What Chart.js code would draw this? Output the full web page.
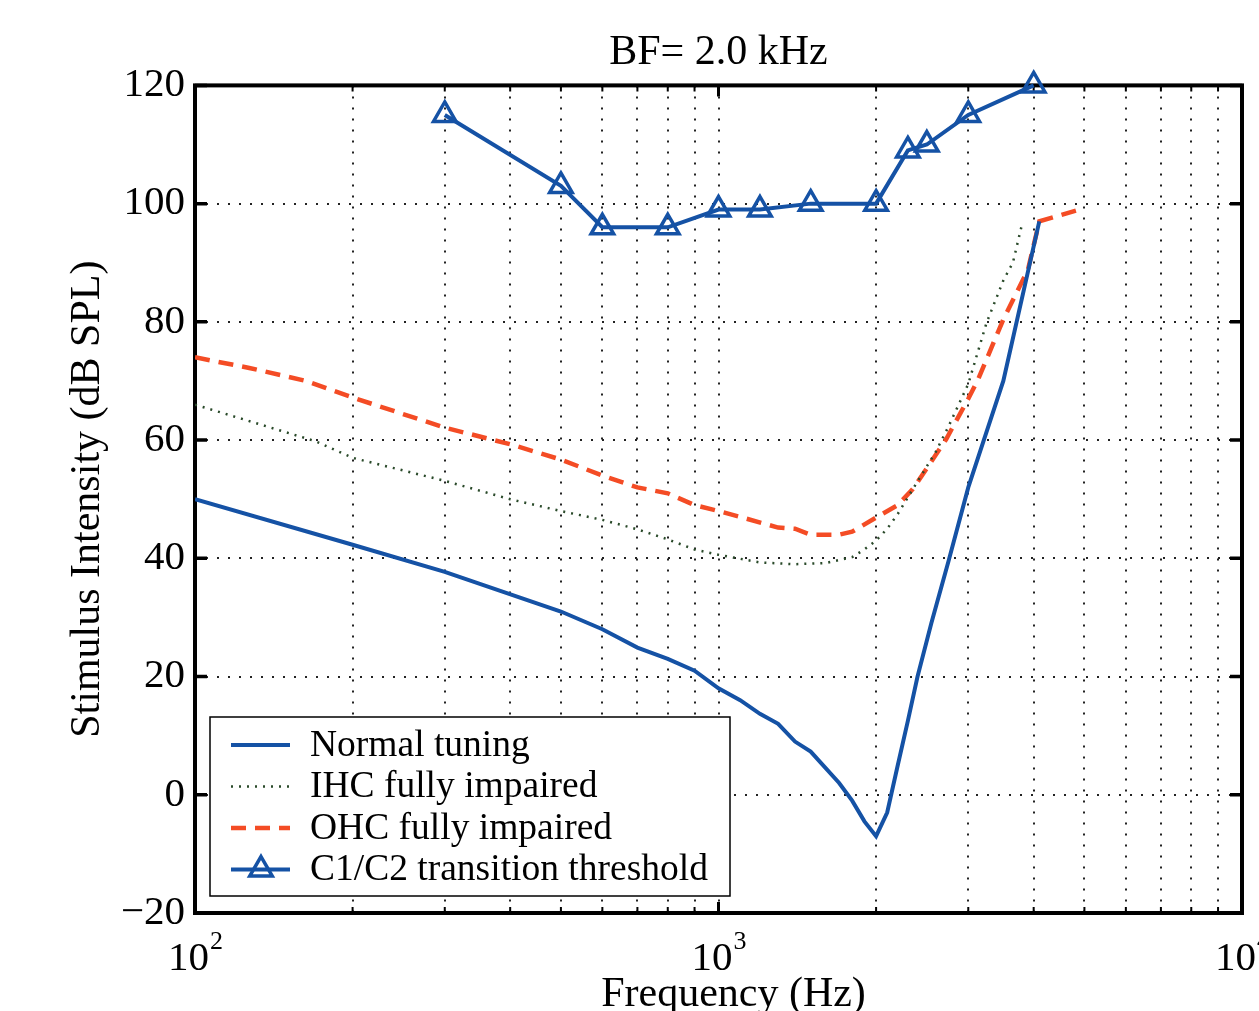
<!DOCTYPE html>
<html>
<head>
<meta charset="utf-8">
<script src="https://cdn.jsdelivr.net/npm/chart.js@4.4.0/dist/chart.umd.min.js"></script>
<style>
  html, body { margin: 0; padding: 0; background: #fff; }
</style>
</head>
<body>
<canvas id="mychart" width="1259" height="1011"></canvas>
<script>
// tuning curves, BF = 2.0 kHz
var normalFreq = [100, 200, 300, 500, 600, 700, 800, 900, 1000, 1100, 1200, 1300, 1400, 1500, 1700, 1800, 1900, 2000, 2100, 2200, 2300, 2400, 2550, 2750, 3000, 3500, 4100];
var normalLevel = [50, 42.3, 37.7, 31, 28, 24.9, 23, 21, 18, 16, 13.7, 12, 9, 7.3, 2, -1, -4.5, -7, -3, 5, 12.5, 20, 29, 39.5, 52, 70, 97];

var ihcFreq = [100, 170, 200, 300, 400, 500, 600, 700, 800, 900, 1000, 1200, 1400, 1600, 1800, 1900, 2000, 2100, 2200, 2400, 2600, 2750, 3000, 3250, 3500, 3650, 3800];
var ihcLevel = [66, 59.8, 57, 53.1, 50, 48, 46.5, 44.9, 43.2, 41.5, 40.6, 39.3, 39, 39.2, 40.2, 41.5, 43, 45, 47.5, 53, 58, 62.3, 69.5, 79.8, 87, 90, 96.5];

var ohcFreq = [100, 127, 163, 200, 300, 400, 500, 600, 700, 800, 900, 1000, 1100, 1300, 1400, 1500, 1700, 1800, 2000, 2200, 2350, 2530, 2720, 2900, 3000, 3130, 3500, 3900, 4100, 4900];
var ohcLevel = [74, 72.2, 70, 67.2, 62.1, 59.3, 56.7, 54, 52, 51, 49, 48, 47, 45.2, 45, 44, 44, 44.5, 46.9, 49, 51.7, 55.9, 60.1, 64.6, 67, 70.2, 80.4, 88.8, 97, 99];

var c1c2Freq = [300, 500, 600, 800, 1000, 1200, 1500, 2000, 2300, 2500, 3000, 4000];
var c1c2Level = [115, 103, 96, 96, 99, 99, 100, 100, 109, 110, 115, 120];

var seriesNames = ['Normal tuning', 'IHC fully impaired', 'OHC fully impaired', 'C1/C2 transition threshold'];

// x grid at every 1-9 x decade, labels only at the decades (10 + exponent)
var xGridValues = [100, 200, 300, 400, 500, 600, 700, 800, 900, 1000, 2000, 3000, 4000, 5000, 6000, 7000, 8000, 9000, 10000];
var xDecades = [100, 1000, 10000];
var xExponents = ['2', '3', '4'];
var yTicks = [-20, 0, 20, 40, 60, 80, 100, 120];

var blue = '#1552a5';
var orange = '#f44c25';
var green = '#2a4a2a';
var serif = "'Liberation Serif', 'Times New Roman', serif";

function pairs(xs, ys) {
	var out = [];
	for (var i = 0; i < xs.length; i++) {
		out.push({ x: xs[i], y: ys[i] });
	}
	return out;
}

Chart.defaults.font.family = serif;
Chart.defaults.color = '#000';

// black box round the plot + inward ticks like matlab
var framePlugin = {
	id: 'frame',
	beforeDatasetsDraw: function(chart) {
		var ctx = chart.ctx;
		var a = chart.chartArea;
		var xs = chart.scales.x;
		var ys = chart.scales.y;

		ctx.save();
		ctx.strokeStyle = '#000';
		ctx.setLineDash([]);
		ctx.lineWidth = 3.5;

		ys.ticks.forEach(function(t) {
			var y = ys.getPixelForValue(t.value);
			ctx.beginPath();
			ctx.moveTo(a.left, y); ctx.lineTo(a.left + 12, y);
			ctx.moveTo(a.right, y); ctx.lineTo(a.right - 12, y);
			ctx.stroke();
		});

		xs.ticks.forEach(function(t) {
			var x = xs.getPixelForValue(t.value);
			var major = xDecades.indexOf(t.value) >= 0;
			var len = major ? 11 : 6;
			ctx.lineWidth = major ? 3 : 2;
			ctx.beginPath();
			ctx.moveTo(x, a.bottom); ctx.lineTo(x, a.bottom - len);
			ctx.moveTo(x, a.top); ctx.lineTo(x, a.top + len);
			ctx.stroke();
		});

		ctx.lineWidth = 4;
		ctx.strokeRect(a.left, a.top, a.right - a.left, a.bottom - a.top);
		ctx.restore();
	}
};

// 10^n labels and the x title, drawn by hand so the exponent sits up high
var xLabelsPlugin = {
	id: 'xLabels',
	afterDraw: function(chart) {
		var ctx = chart.ctx;
		var a = chart.chartArea;
		var xs = chart.scales.x;

		ctx.save();
		ctx.fillStyle = '#000';
		ctx.textBaseline = 'alphabetic';
		ctx.textAlign = 'left';
		xDecades.forEach(function(v, i) {
			var x = xs.getPixelForValue(v);
			ctx.font = '41px ' + serif;
			var w1 = ctx.measureText('10').width;
			ctx.font = '26px ' + serif;
			var w2 = ctx.measureText(xExponents[i]).width;
			var start = x - (w1 + w2) / 2;
			ctx.font = '41px ' + serif;
			ctx.fillText('10', start, a.bottom + 57);
			ctx.font = '26px ' + serif;
			ctx.fillText(xExponents[i], start + w1 + 1, a.bottom + 36);
		});

		ctx.font = '42px ' + serif;
		ctx.textAlign = 'center';
		ctx.fillText('Frequency (Hz)', (a.left + a.right) / 2 + 15, a.bottom + 93);
		ctx.restore();
	}
};

// legend box inside the axes, bottom left
var boxLegendPlugin = {
	id: 'boxLegend',
	afterDraw: function(chart) {
		var ctx = chart.ctx;
		var a = chart.chartArea;
		var x0 = a.left + 15;
		var y0 = a.bottom - 196;
		var w = 520;
		var h = 179;

		ctx.save();
		ctx.fillStyle = '#fff';
		ctx.fillRect(x0, y0, w, h);
		ctx.strokeStyle = '#000';
		ctx.lineWidth = 1.5;
		ctx.strokeRect(x0, y0, w, h);

		chart.data.datasets.forEach(function(ds, i) {
			var y = y0 + 28 + i * 41.5;
			ctx.strokeStyle = ds.borderColor;
			ctx.lineWidth = ds.borderWidth;
			ctx.setLineDash(ds.borderDash || []);
			ctx.beginPath();
			ctx.moveTo(x0 + 21, y);
			ctx.lineTo(x0 + 80, y);
			ctx.stroke();
			ctx.setLineDash([]);

			if (ds.pointRadius > 0) {
				ctx.fillStyle = 'rgba(0,0,0,0)';
				ctx.lineWidth = ds.pointBorderWidth;
				Chart.helpers.drawPoint(ctx, {
					pointStyle: ds.pointStyle,
					radius: ds.pointRadius,
					borderWidth: ds.pointBorderWidth,
					rotation: 0
				}, x0 + 51, y);
			}

			ctx.fillStyle = '#000';
			ctx.font = '37.5px ' + serif;
			ctx.textAlign = 'left';
			ctx.textBaseline = 'middle';
			ctx.fillText(ds.label, x0 + 100, y + 1);
		});
		ctx.restore();
	}
};

var ctx = document.getElementById('mychart');
var myChart = new Chart(ctx, {
	type: 'line',
	data: {
		datasets: [
			{
				label: seriesNames[0],
				data: pairs(normalFreq, normalLevel),
				borderColor: blue,
				borderWidth: 4,
				pointRadius: 0,
				tension: 0
			},
			{
				label: seriesNames[1],
				data: pairs(ihcFreq, ihcLevel),
				borderColor: green,
				borderWidth: 2.5,
				borderDash: [2, 6],
				pointRadius: 0,
				tension: 0
			},
			{
				label: seriesNames[2],
				data: pairs(ohcFreq, ohcLevel),
				borderColor: orange,
				borderWidth: 4.5,
				borderDash: [15, 9],
				pointRadius: 0,
				tension: 0
			},
			{
				label: seriesNames[3],
				data: pairs(c1c2Freq, c1c2Level),
				borderColor: blue,
				backgroundColor: 'rgba(0,0,0,0)',
				borderWidth: 4,
				pointStyle: 'triangle',
				pointRadius: 13,
				pointBorderWidth: 3.5,
				pointBorderColor: blue,
				pointBackgroundColor: 'rgba(0,0,0,0)',
				tension: 0,
				clip: false
			}
		]
	},
	options: {
		responsive: false,
		animation: false,
		layout: { padding: { left: 0, right: 17, top: 0, bottom: 0 } },
		plugins: {
			legend: { display: false },
			tooltip: { enabled: false },
			title: {
				display: true,
				fullSize: false,
				text: 'BF= 2.0 kHz',
				color: '#000',
				font: { size: 42, weight: 'normal', family: serif },
				padding: { top: 28, bottom: 7 }
			}
		},
		scales: {
			x: {
				type: 'logarithmic',
				min: 100,
				max: 10000,
				afterBuildTicks: function(scale) {
					scale.ticks = xGridValues.map(function(v) { return { value: v }; });
				},
				afterFit: function(scale) {
					scale.height = 98;
					scale.paddingLeft = 0;
					scale.paddingRight = 0;
				},
				ticks: {
					autoSkip: false,
					maxRotation: 0,
					callback: function() { return ''; }
				},
				grid: { color: '#222', lineWidth: 2, drawTicks: false },
				border: { display: false, dash: [2, 9] }
			},
			y: {
				min: -20,
				max: 120,
				afterBuildTicks: function(scale) {
					scale.ticks = yTicks.map(function(v) { return { value: v }; });
				},
				afterFit: function(scale) {
					scale.width = 195;
				},
				ticks: {
					padding: 10,
					font: { size: 41 },
					callback: function(value) {
						return value < 0 ? '\u2212' + (-value) : String(value);
					}
				},
				grid: { color: '#222', lineWidth: 2, drawTicks: false },
				border: { display: false, dash: [2, 9] },
				title: {
					display: true,
					text: 'Stimulus Intensity (dB SPL)',
					font: { size: 42 },
					padding: { top: 63, bottom: 0 }
				}
			}
		}
	},
	plugins: [framePlugin, xLabelsPlugin, boxLegendPlugin]
});
</script>
</body>
</html>
